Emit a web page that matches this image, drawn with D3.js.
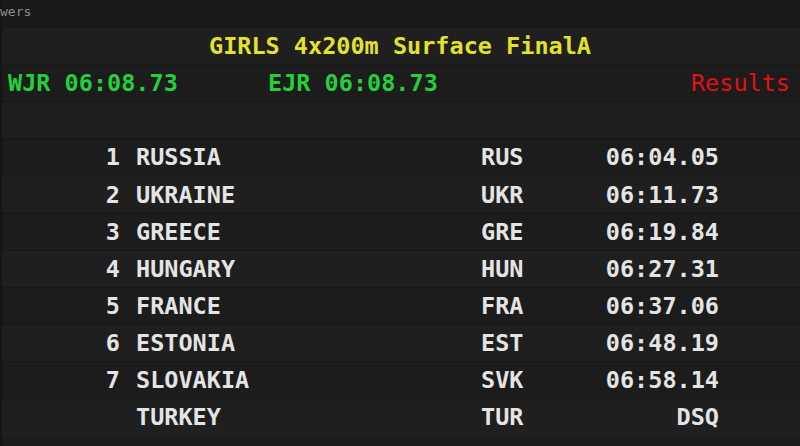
<!DOCTYPE html>
<html>
<head>
<meta charset="utf-8">
<script src="https://cdn.jsdelivr.net/npm/d3@7"></script>
<style>
  html, body { margin: 0; padding: 0; background: #1c1c1c; }
  svg { display: block; }
  text { font-family: "DejaVu Sans Mono", monospace; font-size: 23.5px; font-weight: bold; }
</style>
</head>
<body>
<svg id="board" width="800" height="446"></svg>
<script>
// board data
const title = "GIRLS 4x200m Surface FinalA";
const records = [
  { label: "WJR 06:08.73", x: 8 },
  { label: "EJR 06:08.73", x: 268 }
];
const status = "Results";
const ranks = ["1", "2", "3", "4", "5", "6", "7", ""];
const countries = ["RUSSIA", "UKRAINE", "GREECE", "HUNGARY", "FRANCE", "ESTONIA", "SLOVAKIA", "TURKEY"];
const codes = ["RUS", "UKR", "GRE", "HUN", "FRA", "EST", "SVK", "TUR"];
const times = ["06:04.05", "06:11.73", "06:19.84", "06:27.31", "06:37.06", "06:48.19", "06:58.14", "DSQ"];

const W = 800, H = 446;
const svg = d3.select("#board");

// 11 rows: title, records, blank, then 8 results
const rowIdx = d3.range(11);
const y = d3.scaleBand().domain(rowIdx).range([27, 27 + 11 * 37.14]).padding(0);
const base = i => y(i) + y.bandwidth() / 2 + 8.4;

/**
 * BACKGROUND
 */
svg.append("rect").attr("width", W).attr("height", H).attr("fill", "#1c1c1c");
svg.append("rect").attr("width", W).attr("height", 27).attr("fill", "#191919");

svg.selectAll("rect.row")
  .data(rowIdx)
  .enter().append("rect")
  .attr("class", "row")
  .attr("x", 0)
  .attr("y", d => y(d))
  .attr("width", W)
  .attr("height", y.bandwidth())
  .attr("fill", d => d % 2 ? "#1c1c1c" : "#1f1f1f");

svg.selectAll("line.sep")
  .data(rowIdx)
  .enter().append("line")
  .attr("class", "sep")
  .attr("x1", 0).attr("x2", W)
  .attr("y1", d => y(d) + 0.5).attr("y2", d => y(d) + 0.5)
  .attr("stroke", "#181818").attr("stroke-width", 1);

// left edge
svg.append("rect").attr("x", 0).attr("y", 0).attr("width", 2).attr("height", H).attr("fill", "#151515");

// clipped corner label
svg.append("text")
  .attr("x", 0).attr("y", 16)
  .style("font-size", "13px")
  .style("font-weight", "normal")
  .attr("fill", "#8c8c8c")
  .text("wers");

/**
 * HEADER
 */
svg.append("text")
  .attr("x", 400).attr("y", base(0))
  .attr("text-anchor", "middle")
  .attr("fill", "#e2e22e")
  .text(title);

svg.selectAll("text.rec")
  .data(records)
  .enter().append("text")
  .attr("class", "rec")
  .attr("x", d => d.x).attr("y", base(1))
  .attr("fill", "#24d03a")
  .text(d => d.label);

svg.append("text")
  .attr("x", 790).attr("y", base(1))
  .attr("text-anchor", "end")
  .style("font-weight", "normal")
  .attr("fill", "#e01212")
  .text(status);

/**
 * RESULTS
 */
const res = svg.selectAll("g.res")
  .data(countries)
  .enter().append("g")
  .attr("class", "res")
  .attr("fill", "#e4e4e4");

res.append("text")
  .attr("x", 120).attr("y", (d, i) => base(i + 3))
  .attr("text-anchor", "end")
  .text((d, i) => ranks[i]);

res.append("text")
  .attr("x", 136).attr("y", (d, i) => base(i + 3))
  .text(d => d);

res.append("text")
  .attr("x", 481).attr("y", (d, i) => base(i + 3))
  .text((d, i) => codes[i]);

res.append("text")
  .attr("x", 719).attr("y", (d, i) => base(i + 3))
  .attr("text-anchor", "end")
  .text((d, i) => times[i]);
</script>
</body>
</html>
